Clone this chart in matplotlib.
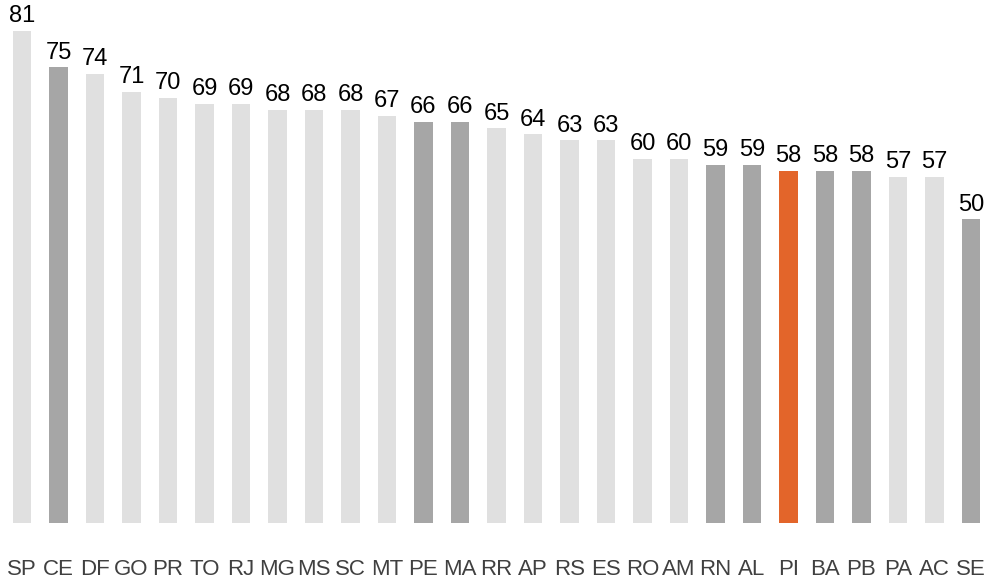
import matplotlib
matplotlib.use("Agg")
import matplotlib.pyplot as plt

states = ["SP", "CE", "DF", "GO", "PR", "TO", "RJ", "MG", "MS", "SC", "MT", "PE", "MA", "RR",
          "AP", "RS", "ES", "RO", "AM", "RN", "AL", "PI", "BA", "PB", "PA", "AC", "SE"]
values = [81, 75, 74, 71, 70, 69, 69, 68, 68, 68, 67, 66, 66, 65,
          64, 63, 63, 60, 60, 59, 59, 58, 58, 58, 57, 57, 50]
northeast = {"CE", "PE", "MA", "RN", "AL", "BA", "PB", "SE"}
highlight = "PI"

LIGHT = "#e0e0e0"
DARK = "#a6a6a6"
ORANGE = "#e3652a"

colors = [ORANGE if s == highlight else (DARK if s in northeast else LIGHT) for s in states]

plt.rcParams["font.family"] = ["Liberation Sans", "DejaVu Sans"]

fig = plt.figure(figsize=(9.87, 5.84), dpi=100)
ax = fig.add_axes([0, (584 - 523) / 584, 1, 523 / 584])
x = list(range(len(states)))
ax.bar(x, values, width=0.5, color=colors)
for xi, v in zip(x, values):
    ax.text(xi, v + 0.6, str(v), ha="center", va="bottom", fontsize=17, color="black")

step = 36.5
ax.set_xlim(-22 / step, 26 + 16 / step)
ax.set_ylim(0, 523 / 6.074)
ax.set_xticks(x)
ax.set_xticklabels(states, fontsize=16, color="#404040")
ax.tick_params(axis="x", length=0, pad=26)
ax.set_yticks([])
for sp in ax.spines.values():
    sp.set_visible(False)

fig.savefig("out.png", dpi=100)
